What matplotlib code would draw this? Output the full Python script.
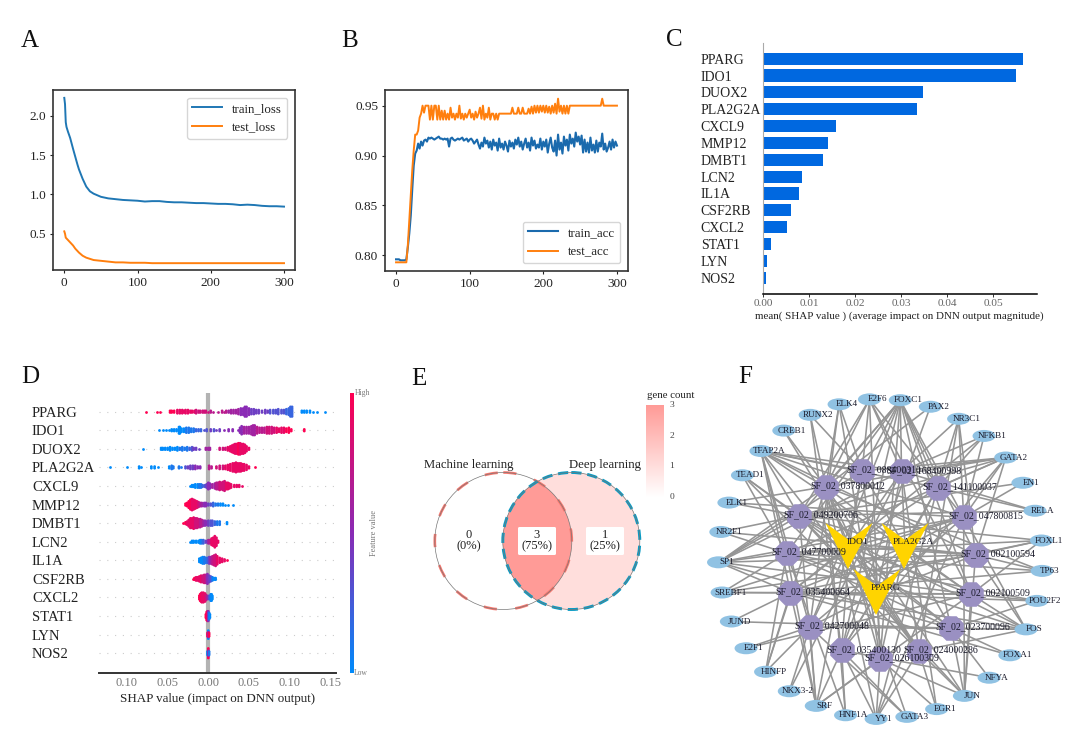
import numpy as np
import matplotlib
matplotlib.use("Agg")
import matplotlib.pyplot as plt
from matplotlib.colors import LinearSegmentedColormap
from matplotlib.patches import Circle, Ellipse, FancyBboxPatch

plt.rcParams['font.family'] = ['Liberation Serif', 'DejaVu Serif']
W, H = 1080, 738

# A : loss curves
loss_epochs = [0, 1, 2, 3, 5, 8, 10, 12, 15, 18, 20, 25, 30, 35, 40, 45, 50, 60, 70, 80, 90, 100, 110, 120, 130, 140,
               150, 160, 170, 180, 190, 200, 210, 220, 230, 240, 250, 260, 270, 280, 290, 300]
train_loss = [2.23, 2.15, 1.92, 1.86, 1.80, 1.72, 1.65, 1.58, 1.48, 1.38, 1.32, 1.20, 1.10, 1.04, 1.01, 0.99, 0.97,
              0.95, 0.94, 0.93, 0.925, 0.92, 0.91, 0.915, 0.915, 0.905, 0.90, 0.90, 0.895, 0.89, 0.89, 0.885, 0.88,
              0.88, 0.875, 0.865, 0.87, 0.865, 0.855, 0.85, 0.85, 0.845]
test_loss = [0.53, 0.50, 0.45, 0.44, 0.42, 0.39, 0.37, 0.35, 0.31, 0.28, 0.26, 0.22, 0.195, 0.18, 0.165, 0.16, 0.155,
             0.145, 0.135, 0.135, 0.13, 0.13, 0.13, 0.125, 0.125, 0.125, 0.125, 0.125, 0.125, 0.125, 0.125, 0.125,
             0.125, 0.125, 0.125, 0.125, 0.125, 0.125, 0.125, 0.125, 0.125, 0.125]

# B : accuracy, one reading every 2 epochs
train_acc = [796, 796, 796, 795, 795, 795, 795, 796,
             808, 822, 840, 866, 890, 902, 905, 912,
             907, 914, 910, 915, 916, 914, 918, 917, 918, 917,
             916, 917, 918, 919, 917, 917, 916, 917, 916, 917,
             909, 917, 918, 916, 915, 916, 917, 916, 917, 918,
             915, 916, 917, 914, 916, 917, 915, 912, 914, 916,
             911, 907, 913, 909, 918, 912, 915, 908, 914, 906,
             916, 910, 913, 905, 917, 908, 912, 906, 914, 910,
             904, 915, 909, 913, 907, 916, 911, 918, 909, 914,
             906, 912, 917, 908, 913, 905, 918, 910, 915, 907,
             911, 908, 917, 906, 914, 909, 916, 903, 912, 918,
             908, 904, 915, 900, 921, 906, 913, 902, 919, 910,
             916, 905, 921, 912, 917, 909, 923, 914, 919, 911,
             920, 903, 916, 904, 913, 903, 918, 905, 911, 903,
             915, 904, 913, 909, 922, 906, 912, 904, 908, 914,
             906, 916, 908, 914, 910]
test_acc = [793] * 8 + [810, 835, 860, 885, 905, 921, 921, 925,
            938, 942, 950, 943, 950, 950, 950, 936, 950, 936,
            950, 950, 936, 950, 936, 945, 936, 945, 936, 942,
            936, 948, 938, 942, 936, 942, 938, 950, 937, 942,
            936, 942, 938, 942, 946, 938, 942, 936, 944, 938,
            942, 948, 937, 950, 936, 942, 938, 948, 936, 942,
            942, 936, 942, 936] + [942] * 9 + [948, 942, 942, 942, 948, 942, 942, 948, 942, 942, 942, 947, 942, 949,
            942, 950, 943, 950, 943, 950, 944, 950, 943, 950, 943, 949, 942, 950, 943, 952, 942, 957, 944, 950,
            942, 950, 942, 950, 942, 950] + [950] * 21 + [957] + [950] * 10

# C : mean shap
genes = ['PPARG', 'IDO1', 'DUOX2', 'PLA2G2A', 'CXCL9', 'MMP12', 'DMBT1', 'LCN2', 'IL1A', 'CSF2RB', 'CXCL2', 'STAT1',
         'LYN', 'NOS2']
mean_shap = [0.0564, 0.0548, 0.0348, 0.0335, 0.0158, 0.0141, 0.0130, 0.0085, 0.0077, 0.0061, 0.0052, 0.0016, 0.0007,
             0.0005]

# D : beeswarm, x in 1/1000, n = dots stacked at that x, f = feature value 0 (low) .. 10 (high)
pparg_x = [-76, -63, -59, -47, -45, -42, -38, -35, -32, -30, -28, -25, -22, -20, -17, -15, -12, -10, -7, -5, -3, 0, 3,
           6, 12, 17, 19, 22, 25, 28, 31, 34, 37, 40, 43, 45, 47, 50, 53, 56, 59, 62, 66, 70, 73, 76, 80, 83, 86, 90,
           93, 96, 99, 101, 103, 115, 118, 121, 125, 129, 134, 143]
pparg_n = [1, 1, 1, 2, 2, 2, 3, 3, 3, 2, 3, 3, 2, 2, 2, 3, 2, 2, 2, 2, 2, 1, 2, 1, 1, 2, 1, 2, 2, 3, 3, 3, 4, 5, 5, 7,
           7, 5, 4, 4, 3, 3, 2, 3, 2, 3, 3, 3, 4, 3, 3, 4, 5, 7, 7, 2, 2, 2, 2, 1, 1, 1]
pparg_f = [10, 10, 10, 10, 10, 10, 9, 9, 9, 9, 9, 9, 9, 9, 9, 8, 8, 8, 8, 8, 8, 8, 7, 7, 7, 7, 7, 7, 6, 6, 6, 6, 6, 5,
           5, 5, 5, 5, 4, 4, 4, 4, 4, 4, 4, 3, 3, 3, 3, 3, 3, 2, 2, 2, 2, 0, 0, 0, 0, 0, 0, 0]
ido1_x = [-60, -56, -52, -48, -45, -42, -39, -36, -35, -33, -30, -27, -24, -21, -18, -15, -12, -9, -5, -2, 3, 7, 10,
          14, 19, 25, 30, 36, 39, 41, 44, 47, 50, 53, 55, 57, 60, 63, 66, 69, 72, 75, 78, 81, 84, 87, 90, 93, 96, 99,
          102, 118]
ido1_n = [1, 1, 1, 1, 2, 2, 2, 5, 5, 3, 3, 4, 4, 3, 3, 2, 2, 2, 1, 2, 2, 2, 1, 2, 1, 2, 2, 1, 4, 6, 5, 5, 5, 6, 7, 7,
          5, 4, 4, 4, 5, 5, 5, 4, 4, 3, 4, 4, 3, 4, 2, 2]
ido1_f = [0, 0, 0, 0, 0, 0, 0, 0, 0, 0, 0, 1, 1, 1, 1, 2, 2, 2, 3, 3, 4, 3, 4, 4, 5, 5, 5, 5, 5, 5, 6, 6, 6, 6, 6, 6,
          7, 7, 7, 7, 8, 8, 8, 8, 9, 9, 9, 9, 10, 10, 10, 10]
duox2_x = [-80, -58, -56, -53, -50, -47, -44, -41, -38, -35, -32, -29, -26, -23, -20, -18, -15, -12, -3, 0, 2, 14, 18,
           21, 24, 27, 29, 31, 33, 35, 37, 39, 41, 43, 45, 47, 50]
duox2_n = [1, 2, 2, 2, 2, 3, 2, 2, 3, 2, 3, 2, 3, 2, 3, 2, 2, 1, 2, 2, 2, 2, 2, 2, 3, 4, 5, 6, 7, 7, 8, 8, 7, 7, 6, 4, 2]
duox2_f = [0, 0, 0, 0, 0, 0, 0, 0, 0, 1, 1, 1, 1, 2, 3, 4, 4, 4, 6, 6, 6, 8, 8, 8, 9, 9, 9, 9, 9, 9, 10, 9, 9, 9, 9, 9, 9]
pla2g2a_x = [-121, -100, -85, -83, -70, -66, -62, -48, -45, -43, -36, -33, -28, -25, -22, -19, -16, -13, -10, 1, 4, 10,
             14, 18, 21, 24, 27, 30, 32, 34, 36, 38, 40, 42, 44, 47, 50, 58]
pla2g2a_n = [1, 1, 2, 1, 2, 2, 1, 2, 3, 2, 2, 1, 2, 2, 3, 3, 3, 2, 2, 3, 2, 2, 3, 3, 3, 4, 5, 6, 6, 7, 6, 6, 6, 5, 5, 4,
             2, 1]
pla2g2a_f = [0, 0, 0, 0, 0, 0, 0, 0, 1, 1, 1, 1, 3, 4, 4, 4, 5, 5, 5, 7, 7, 8, 8, 8, 9, 9, 9, 9, 9, 9, 9, 9, 9, 9, 9, 9,
             9, 10]
cxcl9_x = [-23, -20, -18, -16, -13, -11, -9, -7, -4, -2, 0, 2, 5, 8, 10, 12, 14, 16, 18, 20, 22, 24, 26, 28, 32, 35, 38,
           41]
cxcl9_n = [1, 2, 2, 3, 3, 3, 3, 2, 2, 3, 5, 4, 3, 4, 5, 5, 6, 5, 6, 7, 5, 5, 4, 3, 2, 2, 2, 1]
cxcl9_f = [0, 0, 0, 0, 0, 1, 1, 2, 3, 4, 5, 5, 6, 6, 7, 7, 8, 8, 8, 8, 9, 9, 9, 9, 9, 9, 9, 9]
mmp12_x = [-28, -26, -24, -22, -20, -18, -16, -14, -12, -10, -8, -5, -3, 0, 3, 6, 9, 12, 15, 18, 21, 24, 30]
mmp12_n = [2, 3, 5, 7, 8, 7, 6, 5, 4, 3, 3, 3, 3, 2, 2, 3, 2, 2, 2, 2, 1, 1, 1]
mmp12_f = [10, 10, 10, 10, 9, 9, 9, 9, 8, 7, 6, 5, 5, 4, 3, 2, 1, 1, 0, 0, 0, 0, 0]
dmbt1_x = [-31, -28, -26, -24, -22, -20, -18, -16, -14, -12, -10, -8, -6, -4, -2, 0, 3, 5, 8, 11, 14, 23]
dmbt1_n = [1, 2, 3, 5, 7, 7, 8, 7, 7, 6, 6, 5, 4, 4, 3, 4, 4, 4, 3, 3, 3, 2]
dmbt1_f = [10, 10, 9, 9, 9, 9, 9, 8, 8, 8, 7, 7, 6, 5, 5, 4, 3, 3, 2, 1, 1, 0]
lcn2_x = [-23, -20, -18, -15, -12, -10, -8, -6, -3, 0, 2, 4, 6, 8, 10, 12]
lcn2_n = [1, 2, 2, 2, 2, 3, 3, 3, 2, 3, 3, 5, 6, 8, 6, 2]
lcn2_f = [0, 0, 0, 0, 0, 0, 1, 2, 4, 6, 7, 9, 9, 9, 9, 9]
il1a_x = [-11, -9, -7, -5, -3, -1, 1, 3, 5, 7, 9, 11, 14, 17, 20, 23]
il1a_n = [3, 4, 5, 5, 4, 4, 5, 5, 6, 7, 8, 6, 4, 3, 2, 1]
il1a_f = [0, 0, 0, 1, 1, 2, 4, 6, 7, 8, 8, 9, 9, 9, 9, 10]
csf2rb_x = [-19, -17, -15, -13, -11, -9, -7, -5, -3, -1, 1, 3, 5, 7, 9]
csf2rb_n = [1, 2, 3, 3, 4, 5, 5, 6, 6, 7, 5, 4, 3, 2, 2]
csf2rb_f = [10, 10, 9, 9, 9, 9, 8, 8, 7, 5, 4, 3, 1, 0, 0]
cxcl2_x = [-11, -10, -9, -8, -6, -4, -3, -1, 1, 3, 4, 5]
cxcl2_n = [3, 5, 6, 7, 7, 6, 4, 3, 3, 5, 5, 3]
cxcl2_f = [10, 10, 10, 9, 9, 9, 8, 6, 3, 1, 0, 0]
stat1_x = [-3, -2, -1, 0, 1, 2]
stat1_n = [3, 6, 7, 7, 5, 3]
stat1_f = [10, 10, 9, 5, 1, 0]
lyn_x = [-1, 0, 0, 1]
lyn_n = [3, 6, 4, 3]
lyn_f = [10, 0, 6, 10]
nos2_x = [-1, 0, 0, 1]
nos2_n = [3, 7, 4, 3]
nos2_f = [0, 10, 5, 1]

# E : venn
venn_names = ['Machine learning', 'Deep learning']
venn_counts = [0, 3, 1]
venn_labels = ['0\n(0%)', '3\n(75%)', '1\n(25%)']
count_ticks = [0, 1, 2, 3]

# F : network
tf_names = ['FOXC1', 'PAX2', 'NR3C1', 'NFKB1', 'GATA2', 'EN1', 'RELA', 'FOXL1', 'TP63', 'POU2F2', 'FOS', 'FOXA1',
            'NFYA', 'JUN', 'EGR1', 'GATA3', 'YY1', 'HNF1A', 'SRF', 'NKX3-2', 'HINFP', 'E2F1', 'JUND', 'SREBF1', 'SP1',
            'NR2F1', 'ELK1', 'TEAD1', 'TFAP2A', 'CREB1', 'RUNX2', 'ELK4', 'E2F6']
hub_names = ['SF_02_088400310', 'SF_02_168400998', 'SF_02_141100037', 'SF_02_047800815', 'SF_02_002100594',
             'SF_02_002100509', 'SF_02_023700096', 'SF_02_024000286', 'SF_02_026100309', 'SF_02_035400130',
             'SF_02_042700048', 'SF_02_035400664', 'SF_02_047700009', 'SF_02_049200706', 'SF_02_037800012']
target_names = ['IDO1', 'PLA2G2A', 'PPARG']
tf_links = [[0, 1, 2, 14, 3, 13, 5, 6, 4, 12, 9, 10, 8], [14, 9], [2, 3, 4, 1, 7], [2, 3, 1, 11], [0, 1, 2, 3, 4, 14, 13, 12, 9],
            [3, 13], [2, 1, 13], [4, 12, 5, 13, 11], [4, 12, 14, 11], [5, 6, 11, 12], [4, 5, 6, 7, 11, 3, 10, 12, 13],
            [6, 11], [6, 9], [5, 6, 7, 8, 3, 4, 13, 14], [7, 8, 1], [9, 10, 14], [7, 8, 9, 3, 14, 2], [9, 14, 12],
            [8, 9, 10, 11, 12, 13, 0, 5], [10, 1], [10, 11, 12, 14], [10, 5], [11, 6], [11, 12, 4, 5, 3],
            [12, 13, 14, 0, 1, 11, 6, 5, 3, 4], [12, 13, 4], [13, 14, 3], [12, 13, 6, 7], [0, 1, 2, 3, 13, 14, 12, 11, 10, 4, 5, 7],
            [14, 7], [14, 0, 9], [0, 14, 10, 8], [0, 1, 14, 13, 3, 8, 5]]
hub_links = [[0, 2, 1], [1, 2, 0], [1, 0, 2], [1, 2, 0], [1, 2, 0], [2, 1, 0], [2, 0, 1], [2, 1, 0], [0, 1, 2], [2, 0, 1],
             [0, 2, 1], [0, 2, 1], [0, 1, 2], [0, 2, 1], [0, 1, 2]]

fig = plt.figure(figsize=(W / 100, H / 100), dpi=100)
TXT = '#222222'


def px_axes(left, top, right, bottom):
    return fig.add_axes([left / W, 1 - bottom / H, (right - left) / W, (bottom - top) / H])


def frame_axes(ax, x_ticks, y_ticks, y_fmt):
    ax.set_xlim(-15, 315)
    ax.set_xticks(x_ticks)
    ax.set_yticks(y_ticks)
    ax.set_yticklabels([y_fmt % v for v in y_ticks])
    ax.tick_params(labelsize=9.5, colors=TXT, length=2.5, width=0.8, pad=2.5)
    for s in ax.spines.values():
        s.set_linewidth(1.2)
        s.set_color('#333333')


# panel A
ax = px_axes(53.3, 90, 295, 270)
ax.plot(loss_epochs, train_loss, color='#1f77b4', lw=1.4, label='train_loss')
ax.plot(loss_epochs, test_loss, color='#ff7f0e', lw=1.4, label='test_loss')
ax.set_ylim(0.038, 2.33)
frame_axes(ax, [0, 100, 200, 300], [0.5, 1.0, 1.5, 2.0], '%.1f')
ax.legend(loc='upper right', fontsize=9.3, handlelength=2.3, handletextpad=0.8, borderaxespad=0.6, labelspacing=0.5,
          labelcolor=TXT, fancybox=True)

# panel B
ax = px_axes(385, 90, 628, 271)
ax.plot(np.arange(len(train_acc)) * 2, np.array(train_acc) / 1000, color='#1a6aad', lw=1.5, label='train_acc')
ax.plot(np.arange(len(test_acc)) * 2, np.array(test_acc) / 1000, color='#ff7f0e', lw=1.4, label='test_acc')
ax.set_ylim(0.7843, 0.9657)
frame_axes(ax, [0, 100, 200, 300], [0.80, 0.85, 0.90, 0.95], '%.2f')
ax.legend(loc='lower right', fontsize=9.3, handlelength=2.3, handletextpad=0.8, borderaxespad=0.6, labelspacing=0.55,
          labelcolor=TXT, fancybox=True)

# panel C
ax = px_axes(763.3, 42.7, 1036.7, 294.3)
ax.barh(np.arange(len(genes)), mean_shap, height=0.72, color='#0068e0')
ax.set_xlim(0, 0.0594)
ax.set_ylim(13.985, -0.95)
ax.set_yticks(np.arange(len(genes)))
ax.set_yticklabels(genes, ha='left', fontsize=10, color=TXT)
ax.tick_params(axis='y', length=0, pad=45)
ax.set_xticks([0, 0.01, 0.02, 0.03, 0.04, 0.05])
ax.set_xticklabels(['0.00', '0.01', '0.02', '0.03', '0.04', '0.05'], fontsize=8.2, color='#666666')
ax.tick_params(axis='x', length=2, width=0.7, pad=1.5, color='#333333')
ax.set_xlabel('mean( SHAP value ) (average impact on DNN output magnitude)', fontsize=7.9, color=TXT, labelpad=2)
ax.xaxis.set_label_coords((899 - 763.3) / 273.4, -(316.7 - 294.3 - 5) / 251.6)
ax.spines['top'].set_visible(False)
ax.spines['right'].set_visible(False)
ax.spines['left'].set_color('#aaaaaa')
ax.spines['bottom'].set_linewidth(1.1)

# panel D
shap_cmap = LinearSegmentedColormap.from_list('shap', ['#008bfb', '#8a2bb5', '#ff0051'])
ax = px_axes(99.3, 392.7, 336, 673.3)
swarm_x = [pparg_x, ido1_x, duox2_x, pla2g2a_x, cxcl9_x, mmp12_x, dmbt1_x, lcn2_x, il1a_x, csf2rb_x, cxcl2_x, stat1_x,
           lyn_x, nos2_x]
swarm_n = [pparg_n, ido1_n, duox2_n, pla2g2a_n, cxcl9_n, mmp12_n, dmbt1_n, lcn2_n, il1a_n, csf2rb_n, cxcl2_n, stat1_n,
           lyn_n, nos2_n]
swarm_f = [pparg_f, ido1_f, duox2_f, pla2g2a_f, cxcl9_f, mmp12_f, dmbt1_f, lcn2_f, il1a_f, csf2rb_f, cxcl2_f, stat1_f,
           lyn_f, nos2_f]
ax.axvline(0, color='#b3b3b3', lw=3, zorder=1)
for row in range(len(genes)):
    ax.axhline(row, color='#cccccc', lw=0.8, ls=(0, (1, 6)), zorder=0)
    for x, n, f in zip(swarm_x[row], swarm_n[row], swarm_f[row]):
        offs = (np.arange(n) - (n - 1) / 2) * 0.085
        ax.scatter(np.full(n, x / 1000), row + offs, s=4, c=np.full(n, f / 10), cmap=shap_cmap, vmin=0, vmax=1,
                   linewidths=0, zorder=3)
ax.set_xlim(-0.134, 0.157)
ax.set_ylim(14.08, -1.02)
ax.set_yticks(np.arange(len(genes)))
ax.set_yticklabels(genes, ha='left', fontsize=10.5, color=TXT)
ax.tick_params(axis='y', length=0, pad=48.5)
ax.set_xticks([-0.10, -0.05, 0, 0.05, 0.10, 0.15])
ax.set_xticklabels(['0.10', '0.05', '0.00', '0.05', '0.10', '0.15'], fontsize=9, color='#777777')
ax.tick_params(axis='x', length=0, pad=3)
ax.set_xlabel('SHAP value (impact on DNN output)', fontsize=9.4, color=TXT, labelpad=2.5)
for s in ['top', 'right', 'left']:
    ax.spines[s].set_visible(False)
ax.spines['bottom'].set_linewidth(1.4)
ax.spines['bottom'].set_color('#333333')

cax = px_axes(350, 392.7, 353.5, 672.7)
cax.imshow(np.linspace(1, 0, 256)[:, None], aspect='auto', cmap=shap_cmap)
cax.axis('off')

# everything else goes on a pixel canvas
cv = fig.add_axes([0, 0, 1, 1], facecolor='none')
cv.set_xlim(0, W)
cv.set_ylim(H, 0)
cv.axis('off')

cv.text(362, 393, 'High', fontsize=5.5, color='#777777', ha='center', va='center')
cv.text(361, 673, 'Low', fontsize=5.5, color='#777777', ha='center', va='center')
cv.text(374, 533, 'Feature value', fontsize=6, color='#777777', ha='center', va='center', rotation=90)

# panel letters
for letter, lx, ly in [('A', 30, 41), ('B', 350, 41), ('C', 674, 40), ('D', 30, 377), ('E', 419, 379), ('F', 745, 377)]:
    cv.text(lx, ly, letter, fontsize=18, color='#111111', ha='center', va='center')

# panel E
count_cmap = LinearSegmentedColormap.from_list('count', ['#ffffff', '#ff9b97'])
cx_l, cx_r, cy, rad = 503.3, 571.3, 541, 68.5
cv.add_patch(Circle((cx_l, cy), rad, fc=count_cmap(venn_counts[0] / 3), ec='none', zorder=2))
cv.add_patch(Circle((cx_r, cy), rad, fc=count_cmap(venn_counts[2] / 3), ec='none', zorder=2))
lens = Circle((cx_l, cy), rad, fc=count_cmap(venn_counts[1] / 3), ec='none', zorder=3)
cv.add_patch(lens)
lens.set_clip_path(Circle((cx_r, cy), rad, transform=cv.transData))
cv.add_patch(Circle((cx_l, cy), rad, fc='none', ec='#f8766d', lw=1.9, ls=(0, (5, 7)), zorder=4))
cv.add_patch(Circle((cx_r, cy), rad, fc='none', ec='#0a9bc4', lw=2.1, ls=(0, (3.5, 2)), zorder=4))
cv.add_patch(Circle((cx_l, cy), rad, fc='none', ec='#777777', lw=0.5, zorder=5))
cv.add_patch(Circle((cx_r, cy), rad, fc='none', ec='#777777', lw=0.5, zorder=5))
for name, tx in zip(venn_names, [469, 605]):
    cv.text(tx, 465, name, fontsize=9.2, color=TXT, ha='center', va='center', zorder=6)
for lab, tx, boxed in zip(venn_labels, [469, 537, 605], [False, True, True]):
    if boxed:
        cv.add_patch(FancyBboxPatch((tx - 19, cy - 14), 38, 28, boxstyle='round,pad=0,rounding_size=1.5', fc='white',
                                    ec='none', zorder=6))
    cv.text(tx, cy, lab, fontsize=9, color=TXT, ha='center', va='center', linespacing=0.95, zorder=7)
grad_ax = px_axes(646, 405, 664, 497)
grad_ax.imshow(np.linspace(1, 0, 128)[:, None], aspect='auto', cmap=count_cmap)
grad_ax.axis('off')
for c in count_ticks:
    ty = 497 - c * (497 - 405) / 3
    cv.plot([646, 649], [ty, ty], color='white', lw=0.6, zorder=6)
    cv.plot([661, 664], [ty, ty], color='white', lw=0.6, zorder=6)
    cv.text(672, ty, str(c), fontsize=6.8, color='#444444', ha='center', va='center')
cv.text(670.7, 395, 'gene count', fontsize=7.8, color=TXT, ha='center', va='center')

# panel F, circular layout like cytoscape
tf_ang = np.radians(7 + np.arange(len(tf_names)) * 360 / len(tf_names))
tf_x = 880.5 + 162 * np.sin(tf_ang)
tf_y = 559 - 160 * np.cos(tf_ang)
hub_ang = np.radians(-11.5 + np.arange(len(hub_names)) * 360 / len(hub_names))
hub_x = 881 + 95 * np.sin(hub_ang)
hub_y = 564 - 95 * np.cos(hub_ang)
tgt_x = np.array([849, 905, 877])
tgt_y = np.array([547, 547, 593])
chevron_x = np.array([-23.5, 0, 23.5, -1])
chevron_y = np.array([-24, -7, -24, 22])

for i, links in enumerate(tf_links):
    for h in links:
        cv.plot([tf_x[i], hub_x[h]], [tf_y[i], hub_y[h]], color='#959595', lw=1.15, zorder=8, solid_capstyle='round')
for h, links in enumerate(hub_links):
    for t in links:
        cv.plot([hub_x[h], tgt_x[t]], [hub_y[h], tgt_y[t]], color='#959595', lw=1.15, zorder=8)
for x, y in zip(tf_x, tf_y):
    cv.add_patch(Ellipse((x, y), 23, 12, fc='#90c2e3', ec='none', zorder=9))
cv.scatter(hub_x, hub_y, s=365, marker='8', c='#9a90c2', linewidths=0, zorder=10)
for x, y in zip(tgt_x, tgt_y):
    cv.fill(x + chevron_x, y + chevron_y, color='#ffd400', lw=0, zorder=11)
for name, x, y in zip(tf_names, tf_x, tf_y):
    cv.text(x + 8, y, name, fontsize=6.6, color='#1a1a2a', ha='center', va='center', zorder=12)
for name, x, y in zip(hub_names, hub_x, hub_y):
    cv.text(x + 22, y - 1, name, fontsize=7.1, color='#1a1a2a', ha='center', va='center', zorder=12)
for name, x, y in zip(target_names, tgt_x, tgt_y):
    cv.text(x + 8, y - 5, name, fontsize=6.8, color='#1a1a2a', ha='center', va='center', zorder=12)

fig.savefig('out.png', dpi=100, facecolor='white')
